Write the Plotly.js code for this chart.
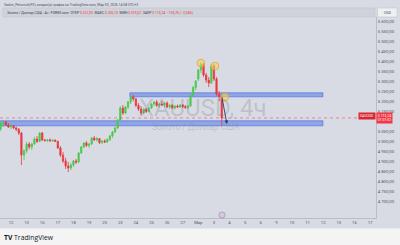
<!DOCTYPE html>
<html><head><meta charset="utf-8">
<script src="https://cdn.plot.ly/plotly-3.0.1.min.js"></script>
<style>html,body{margin:0;padding:0;background:#d8dbe3;}#chart{width:400px;height:245px;}</style>
</head><body><div id="chart"></div>
<script>
// ---- data (4h candles, UTC+3) ----
const tradingDays = ['11.02','12.02','13.02','16.02','17.02','18.02','19.02','20.02','23.02','24.02','25.02','26.02','27.02','02.03','03.03'];
const sessionHours = ['01','05','09','13','17','21'];
const times = [
 '11.02 09','11.02 13','11.02 17','11.02 21',
 '12.02 01','12.02 05','12.02 09','12.02 13','12.02 17','12.02 21',
 '13.02 01','13.02 05','13.02 09','13.02 13','13.02 17','13.02 21',
 '16.02 01','16.02 05','16.02 09','16.02 13','16.02 17','16.02 21',
 '17.02 01','17.02 05','17.02 09','17.02 13','17.02 17','17.02 21',
 '18.02 01','18.02 05','18.02 09','18.02 13','18.02 17','18.02 21',
 '19.02 01','19.02 05','19.02 09','19.02 13','19.02 17','19.02 21',
 '20.02 01','20.02 05','20.02 09','20.02 13','20.02 17','20.02 21',
 '23.02 01','23.02 05','23.02 09','23.02 13','23.02 17','23.02 21',
 '24.02 01','24.02 05','24.02 09','24.02 13','24.02 17','24.02 21',
 '25.02 01','25.02 05','25.02 09','25.02 13','25.02 17','25.02 21',
 '26.02 01','26.02 05','26.02 09','26.02 13','26.02 17','26.02 21',
 '27.02 01','27.02 05','27.02 09','27.02 13','27.02 17','27.02 21',
 '02.03 01','02.03 05','02.03 09','02.03 13','02.03 17','02.03 21',
 '03.03 01','03.03 05','03.03 09','03.03 13'
];
const open = [5060,5088,5095,5080, 5070,5075,5065,5058,5040,4930, 4950,4985,4970,4985,5010,4998,
 5040,5005,5002,5006,5000,5004, 4998,4965,4930,4900,4875,4865, 4880,4900,4895,4940,4970,4990,
 4978,4985,5015,5005,5012,4992, 5000,4995,5008,5025,5045,5065, 5105,5165,5140,5170,5195,5220,
 5210,5178,5160,5140,5158,5148, 5165,5185,5195,5178,5185,5180, 5190,5170,5178,5165,5175,5170,
 5180,5172,5168,5175,5228,5268, 5310,5355,5385,5330,5305,5290, 5375,5310,5235,5222];
const high = [5095,5100,5098,5090, 5082,5080,5072,5065,5045,4960, 4995,4995,4990,5020,5025,5045,
 5045,5010,5010,5012,5008,5008, 5002,4975,4945,4915,4895,4890, 4905,4910,4945,4975,4995,5000,
 4990,5020,5025,5020,5015,5005, 5008,5012,5030,5050,5070,5110, 5175,5180,5175,5200,5225,5232,
 5215,5190,5175,5165,5165,5170, 5190,5200,5205,5190,5200,5195, 5198,5185,5185,5180,5182,5185,
 5185,5180,5180,5235,5275,5305, 5360,5395,5390,5340,5320,5385, 5385,5320,5250,5236.10];
const low = [5050,5070,5075,5065, 5058,5060,5050,5030,4880,4905, 4940,4960,4955,4980,4990,4995,
 5000,4998,4995,4998,4995,4995, 4960,4920,4890,4860,4845,4855, 4870,4885,4890,4935,4965,4970,
 4965,4980,5000,4998,4985,4985, 4990,4990,5000,5015,5040,5060, 5100,5130,5135,5160,5185,5200,
 5170,5150,5130,5135,5140,5145, 5160,5175,5170,5165,5175,5170, 5165,5160,5160,5158,5165,5165,
 5165,5160,5160,5170,5220,5255, 5300,5340,5320,5290,5270,5285, 5300,5225,5200,5075.52];
const close = [5088,5095,5080,5070, 5075,5065,5058,5040,4930,4950, 4985,4970,4985,5010,4998,5040,
 5005,5002,5006,5000,5004,4998, 4965,4930,4900,4875,4865,4880, 4900,4895,4940,4970,4990,4978,
 4985,5015,5005,5012,4992,5000, 4995,5008,5025,5045,5065,5105, 5165,5140,5170,5195,5220,5210,
 5178,5160,5140,5158,5148,5165, 5185,5195,5178,5185,5180,5190, 5170,5178,5165,5175,5170,5180,
 5172,5168,5175,5228,5268,5300, 5355,5385,5330,5305,5290,5375, 5310,5235,5222,5115.24];
const axisDayLabels = ['12','13','16','17','18','19','20','23','24','25','26','27','Мар','3','4','5','6','9','10','11','12','13','16','17'];
const priceTicks = [4700,4750,4800,4850,4900,4950,5000,5050,5100,5150,5200,5250,5300,5350,5400,5450,5500,5550,5600];
const upperZone = [5221, 5241];
const lowerZone = [5076, 5101];
const swingPoints = [[73.0,5390],[78.4,5375],[82.2,5220]]; // marked highs / retest
const arrowFrom = [81.0, 5225], arrowTo = [83.0, 5085];

// ---- derived ----
const xs = times.map(t => {
  const [d,h] = t.split(' ');
  return (tradingDays.indexOf(d) - 1) * 6 + sessionHours.indexOf(h);
});
const tickvals = axisDayLabels.map((_, k) => k * 6);
function fmt(v){
  const s = Math.abs(v).toFixed(2).split('.');
  s[0] = s[0].replace(/\B(?=(\d{3})+(?!\d))/g, ' ');
  return (v < 0 ? '−' : '') + s[0] + ',' + s[1];
}
const n = close.length;
const chg = close[n-1] - close[n-2];
const pct = chg / close[n-2] * 100;
const yTicks = priceTicks.filter(v => Math.abs(v - close[n-1]) > 25);
const RED = '#e8383d', GREEN = '#4cc84f';
const rv = v => `<span style="color:${RED}">${v}</span>`;
const header2 = `Золото / Доллар США · 4ч · FOREX.com  ОТКР ${rv(fmt(open[n-1]))}  МАКС ${rv(fmt(high[n-1]))}  МИН ${rv(fmt(low[n-1]))}  ЗАКР ${rv(fmt(close[n-1]))}  ${rv(fmt(chg)+' ('+fmt(pct)+'%)')}`;

const cx = 1.5, cy = 19;
const shapes = [
  {type:'rect', xref:'paper', yref:'paper', x0:-0.1, x1:1.2, y0:-0.3, y1:-0.052, fillcolor:'#f4f4f5', line:{width:0}, layer:'below'},
  {type:'rect', xref:'paper', yref:'paper', x0:0.008, x1:0.997, y0:1.0, y1:1.045, fillcolor:'#cfd2da', line:{color:'#c3c6cf', width:0.6}},
  {type:'rect', xref:'paper', yref:'paper', x0:1.004, x1:1.056, y0:1.0, y1:1.045, fillcolor:'#eef0f4', line:{color:'#c3c6cf', width:0.6}},
  {type:'rect', xref:'x', yref:'y', x0:45.7, x1:119.9, y0:upperZone[0], y1:upperZone[1], fillcolor:'rgba(60,100,230,0.45)', line:{color:'rgba(60,100,230,0.75)', width:0.8}, layer:'below'},
  {type:'rect', xref:'x', yref:'y', x0:-6, x1:119.9, y0:lowerZone[0], y1:lowerZone[1], fillcolor:'rgba(60,100,230,0.45)', line:{color:'rgba(60,100,230,0.75)', width:0.8}, layer:'below'},
  {type:'line', xref:'paper', yref:'y', x0:0, x1:1, y0:close[n-1], y1:close[n-1], line:{color:'rgba(232,56,61,0.7)', width:0.7, dash:'dot'}},
  {type:'circle', xref:'x', yref:'paper', x0:81.1-1.2, x1:81.1+1.2, y0:0.0, y1:0.03, fillcolor:'#d3c9dc', line:{color:'#9b86ad', width:0.6}}
];
swingPoints.forEach(p => shapes.push({type:'circle', xref:'x', yref:'y', x0:p[0]-cx, x1:p[0]+cx, y0:p[1]-cy, y1:p[1]+cy, fillcolor:'rgba(250,210,80,0.55)', line:{color:'#d9a93a', width:0.8}}));

const annotations = [
  {xref:'paper', yref:'paper', x:0.54, y:0.545, text:'XAUUSD, 4ч', showarrow:false, font:{family:'Roboto, Arial', size:24, color:'rgba(120,125,140,0.28)'}},
  {xref:'paper', yref:'paper', x:0.52, y:0.452, text:'Золото / Доллар США', showarrow:false, font:{family:'Roboto, Arial', size:8.5, color:'rgba(120,125,140,0.3)'}},
  {xref:'paper', yref:'paper', x:0.005, y:1.06, xanchor:'left', yanchor:'middle', showarrow:false, text:'Vadim_Petrovich(FX) создал(а) график на TradingView.com, Мар 03, 2026 14:58 UTC+3', font:{family:'Roboto, Arial', size:3.4, color:'#4a4e5a'}},
  {xref:'paper', yref:'paper', x:0.014, y:1.022, xanchor:'left', yanchor:'middle', showarrow:false, text:header2, font:{family:'Roboto, Arial', size:3.4, color:'#3a3e4a'}},
  {xref:'paper', yref:'paper', x:1.03, y:1.022, xanchor:'center', yanchor:'middle', showarrow:false, text:'USD', font:{family:'Roboto, Arial', size:3.6, color:'#3a3e4a'}},
  {xref:'paper', yref:'y', x:1.0, y:close[n-1], xanchor:'left', yanchor:'middle', showarrow:false, text:fmt(close[n-1])+'<br>01:01:02', bgcolor:'#f23645', borderpad:0.8, align:'left', font:{family:'Roboto, Arial', size:3.5, color:'#ffffff'}},
  {xref:'paper', yref:'y', x:0.999, y:close[n-1]+8, xanchor:'right', yanchor:'middle', showarrow:false, text:'XAUUSD', bgcolor:'#d9262f', borderpad:0.8, font:{family:'Roboto, Arial', size:3.5, color:'#ffffff'}},
  {xref:'x', yref:'y', axref:'x', ayref:'y', x:arrowTo[0], y:arrowTo[1], ax:arrowFrom[0], ay:arrowFrom[1], showarrow:true, arrowhead:2, arrowsize:0.8, arrowwidth:0.9, arrowcolor:'#2b3a67', text:''},
  {xref:'paper', yref:'paper', x:0.005, y:-0.095, xanchor:'left', yanchor:'middle', showarrow:false, text:'<b>TV</b> TradingView', font:{family:'Open Sans, Arial', size:6.8, color:'#131722'}}
];

const trace = {
  type:'candlestick', x:xs, open:open, high:high, low:low, close:close,
  increasing:{line:{color:GREEN, width:0.8}, fillcolor:GREEN},
  decreasing:{line:{color:RED, width:0.8}, fillcolor:RED},
  whiskerwidth:0, hoverinfo:'skip'
};

const layout = {
  width:400, height:245,
  margin:{l:0, r:24, t:17, b:27},
  paper_bgcolor:'#d8dbe3', plot_bgcolor:'#d8dbe3',
  separators:', ',
  showlegend:false,
  xaxis:{range:[-4.23,140.3], tickvals:tickvals, ticktext:axisDayLabels, showgrid:false, zeroline:false,
    rangeslider:{visible:false}, tickfont:{family:'Roboto, Arial', size:4.2, color:'#50545f'},
    showline:true, linecolor:'#b2b5be', linewidth:0.8, ticks:'', fixedrange:true},
  yaxis:{side:'right', range:[4615,5620], tickvals:yTicks, tickformat:',.2f', showgrid:false, zeroline:false,
    tickfont:{family:'Roboto, Arial', size:4.3, color:'#50545f'}, showline:true, linecolor:'#b2b5be', linewidth:0.8, ticks:'', fixedrange:true},
  shapes:shapes, annotations:annotations
};
Plotly.newPlot('chart', [trace], layout, {displayModeBar:false, staticPlot:true});
</script></body></html>
